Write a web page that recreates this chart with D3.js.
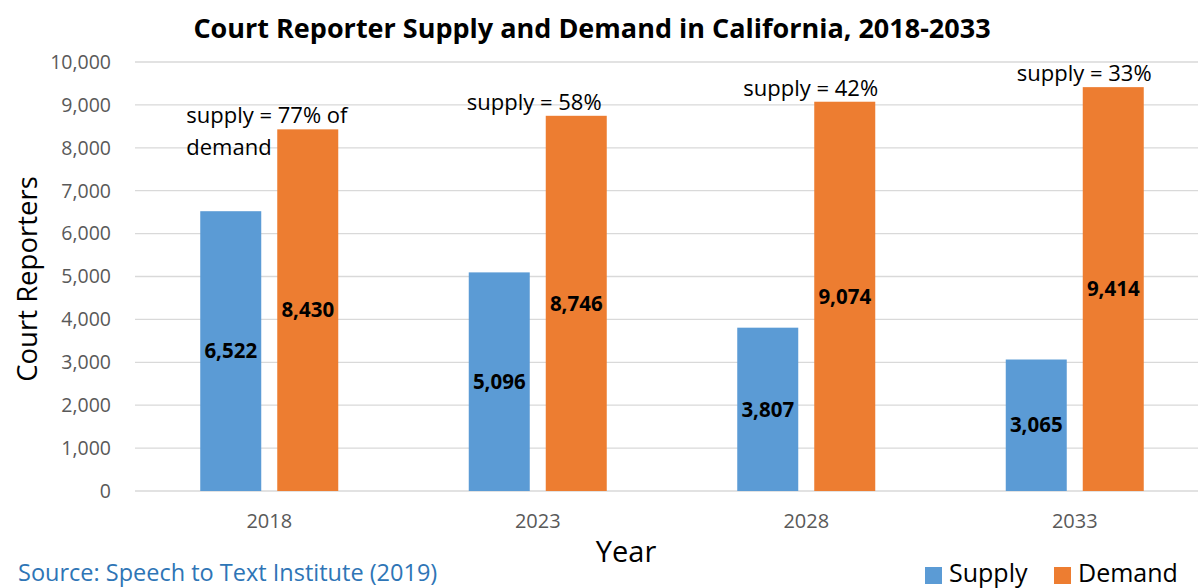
<!DOCTYPE html>
<html>
<head>
<meta charset="utf-8">
<script src="https://cdnjs.cloudflare.com/ajax/libs/d3/7.8.5/d3.min.js"></script>
<style>
  body { margin: 0; background: #fff; }
  svg { font-family: "Open Sans", "Noto Sans", sans-serif; }
</style>
</head>
<body>
<svg id="chart" width="1198" height="588"></svg>
<script>
// chart data
const years = ["2018", "2023", "2028", "2033"];
const supply = [6522, 5096, 3807, 3065];
const demand = [8430, 8746, 9074, 9414];
const notes = [["supply = 77% of", "demand"], ["supply = 58%"], ["supply = 42%"], ["supply = 33%"]];
const yTicks = [0, 1000, 2000, 3000, 4000, 5000, 6000, 7000, 8000, 9000, 10000];
const seriesNames = ["Supply", "Demand"];

const blue = "#5b9bd5", orange = "#ed7d31";
const svg = d3.select("#chart");

const x = d3.scaleBand().domain(years).range([135, 1209]);
const y = d3.scaleLinear().domain([0, 10000]).range([491, 62]);
const barW = 61, gap = 16;

// grid lines
svg.append("g").selectAll("line")
  .data(yTicks)
  .enter().append("line")
    .attr("x1", 135).attr("x2", 1209)
    .attr("y1", d => y(d)).attr("y2", d => y(d))
    .attr("stroke", "#d9d9d9").attr("stroke-width", 1.3);

// y axis tick labels
svg.append("g").selectAll("text")
  .data(yTicks)
  .enter().append("text")
    .attr("x", 111).attr("y", d => y(d))
    .attr("dy", "0.35em")
    .attr("text-anchor", "end")
    .attr("font-size", 19.5).attr("fill", "#595959")
    .text(d => d3.format(",")(d));

// x axis tick labels
svg.append("g").selectAll("text")
  .data(years)
  .enter().append("text")
    .attr("x", d => x(d) + x.bandwidth() / 2).attr("y", 528)
    .attr("text-anchor", "middle")
    .attr("font-size", 20).attr("fill", "#595959")
    .text(d => d);

const cx = d => x(d) + x.bandwidth() / 2;

// supply bars
svg.append("g").selectAll("rect")
  .data(years)
  .enter().append("rect")
    .attr("x", d => cx(d) - gap / 2 - barW)
    .attr("width", barW)
    .attr("y", (d, i) => y(supply[i]))
    .attr("height", (d, i) => y(0) - y(supply[i]))
    .attr("fill", blue);

// demand bars
svg.append("g").selectAll("rect")
  .data(years)
  .enter().append("rect")
    .attr("x", d => cx(d) + gap / 2)
    .attr("width", barW)
    .attr("y", (d, i) => y(demand[i]))
    .attr("height", (d, i) => y(0) - y(demand[i]))
    .attr("fill", orange);

// value labels in the middle of the bars
svg.append("g").selectAll("text")
  .data(years)
  .enter().append("text")
    .attr("x", d => cx(d) - gap / 2 - barW / 2)
    .attr("y", (d, i) => (y(0) + y(supply[i])) / 2)
    .attr("dy", "0.35em").attr("text-anchor", "middle")
    .attr("font-size", 20.5).attr("font-weight", "bold")
    .text((d, i) => d3.format(",")(supply[i]));

svg.append("g").selectAll("text")
  .data(years)
  .enter().append("text")
    .attr("x", d => cx(d) + gap / 2 + barW / 2)
    .attr("y", (d, i) => (y(0) + y(demand[i])) / 2)
    .attr("dy", "0.35em").attr("text-anchor", "middle")
    .attr("font-size", 20.5).attr("font-weight", "bold")
    .text((d, i) => d3.format(",")(demand[i]));

// annotation notes above the demand bars
const noteOffsets = [-83, -71, -63, -58];
notes.forEach((lines, i) => {
  const t = svg.append("text")
    .attr("font-size", 22).attr("fill", "#000");
  lines.forEach((ln, k) => {
    t.append("tspan")
      .attr("x", cx(years[i]) + noteOffsets[i])
      .attr("y", lines.length > 1 ? y(demand[i]) - 6 + k * 32 : y(demand[i]) - 6)
      .text(ln);
  });
});

// title
svg.append("text")
  .attr("x", 592).attr("y", 38)
  .attr("text-anchor", "middle")
  .attr("font-size", 27).attr("font-weight", "bold")
  .text("Court Reporter Supply and Demand in California, 2018-2033");

// axis titles
svg.append("text")
  .attr("transform", "translate(37,279) rotate(-90)")
  .attr("text-anchor", "middle")
  .attr("font-size", 27.5)
  .text("Court Reporters");

svg.append("text")
  .attr("x", 626).attr("y", 562)
  .attr("text-anchor", "middle")
  .attr("font-size", 29)
  .text("Year");

// source
svg.append("text")
  .attr("x", 18).attr("y", 581)
  .attr("font-size", 23.5).attr("fill", "#2e75b6")
  .text("Source: Speech to Text Institute (2019)");

// legend
const legendX = [925, 1054];
const lg = svg.append("g").selectAll("g")
  .data(seriesNames)
  .enter().append("g")
    .attr("transform", (d, i) => "translate(" + legendX[i] + ",567)");
lg.append("rect").attr("width", 17).attr("height", 17)
  .attr("fill", (d, i) => i === 0 ? blue : orange);
lg.append("text").attr("x", 24).attr("y", 15)
  .attr("font-size", 25)
  .text(d => d);
</script>
</body>
</html>
